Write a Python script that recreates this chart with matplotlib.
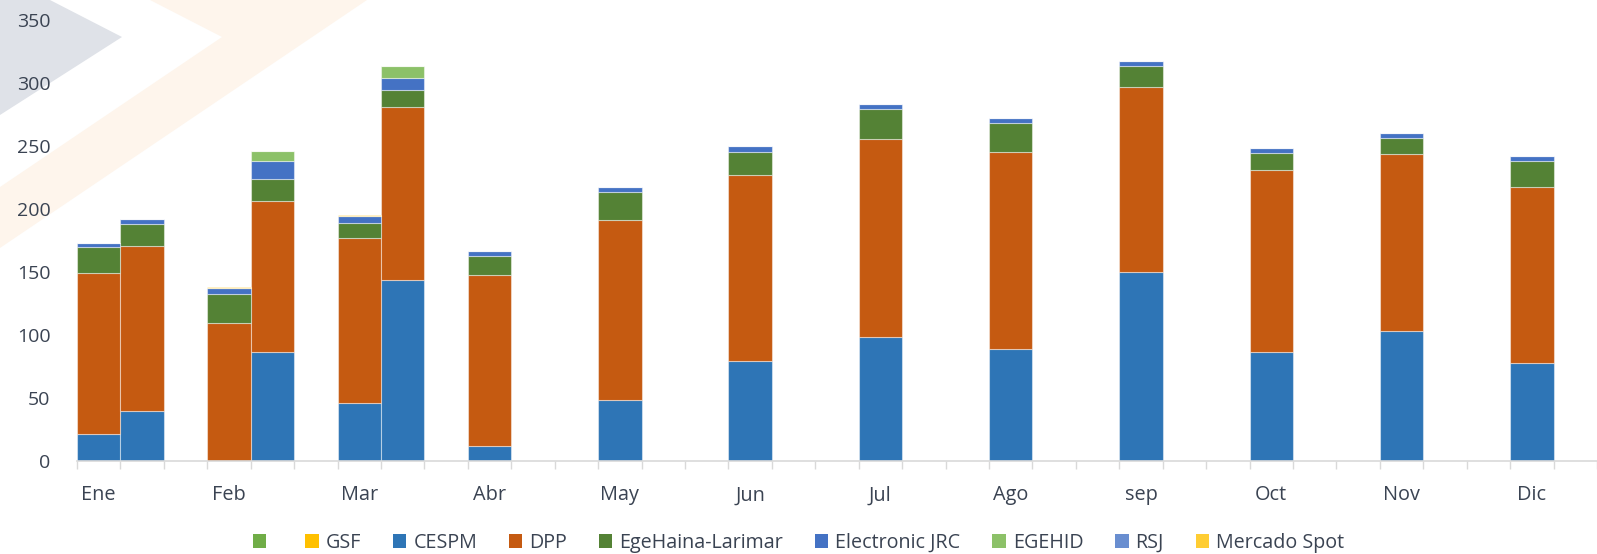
import matplotlib
matplotlib.use("Agg")
import matplotlib.pyplot as plt
from matplotlib.patches import Polygon, Patch
import numpy as np

# ---------------- data ----------------
months = ['Ene', 'Feb', 'Mar', 'Abr', 'May', 'Jun', 'Jul', 'Ago', 'sep', 'Oct', 'Nov', 'Dic']
# month of every bar (Ene, Feb and Mar have two bars)
bar_month = ['Ene', 'Ene', 'Feb', 'Feb', 'Mar', 'Mar', 'Abr', 'May', 'Jun', 'Jul',
             'Ago', 'sep', 'Oct', 'Nov', 'Dic']

series_names = ['', 'GSF', 'CESPM', 'DPP', 'EgeHaina-Larimar', 'Electronic JRC',
                'EGEHID', 'RSJ', 'Mercado Spot']
series_colors = ['#70AD47', '#FFC000', '#2E75B6', '#C55A11', '#548235', '#4472C4',
                 '#8CC168', '#698ED0', '#FFCD33']

unnamed = [0] * 15
gsf = [0] * 15
cespm = [21.2, 39.9, 0, 86.9, 45.7, 144.0, 11.6, 48.6, 79.6, 98.5, 89.2, 150.0, 86.9, 102.8, 78.0]
dpp = [128.0, 131.0, 109.9, 119.7, 131.0, 136.7, 136.3, 142.9, 147.6, 156.7, 156.4, 146.6, 144.2, 141.0, 139.4]
ege = [20.4, 17.1, 23.0, 17.4, 12.4, 13.8, 14.8, 21.9, 18.4, 24.2, 22.5, 16.6, 13.0, 12.4, 20.9]
jrc = [3.4, 3.8, 4.5, 14.3, 5.0, 9.2, 4.3, 3.7, 4.3, 3.7, 4.2, 4.3, 4.2, 4.0, 3.9]
egehid = [0, 0, 0, 7.9, 0, 9.5, 0, 0, 0, 0, 0, 0, 0, 0, 0]
rsj = [0] * 15
mercado = [0, 0, 0.6, 0, 0.8, 0, 0, 0, 0, 0, 0, 0, 0, 0, 0]

yticks = [0, 50, 100, 150, 200, 250, 300, 350]

# ---------------- layout ----------------
W, H = 1597, 554
fig = plt.figure(figsize=(W / 100, H / 100), dpi=100)
plt.rcParams['font.family'] = ['Open Sans', 'DejaVu Sans']
text_color = '#3A4352'

# watermark decorations (figure pixel coords)
def px(points):
    return [(x / W, 1 - y / H) for x, y in points]

fig.patches.append(Polygon(px([(0, 0), (50, 0), (122, 37), (0, 115)]), closed=True,
                           transform=fig.transFigure, facecolor='#DFE2E8',
                           edgecolor='none', zorder=-5))
fig.patches.append(Polygon(px([(150, 0), (367, 0), (0, 248), (0, 187), (222, 37)]), closed=True,
                           transform=fig.transFigure, facecolor='#FEF5EC',
                           edgecolor='none', zorder=-5))

ax_left, ax_right = 77 / W, 1.0
ax_bottom, ax_top = (H - 461) / H, (H - 20) / H
ax = fig.add_axes([ax_left, ax_bottom, ax_right - ax_left, ax_top - ax_bottom])
ax.set_facecolor('none')

# slot positions: each month takes 3 slots, 2nd bar of a month goes to next slot
slots = []
seen = {}
for m in bar_month:
    k = seen.get(m, 0)
    slots.append(3 * months.index(m) + k + 0.5)
    seen[m] = k + 1
slots = np.array(slots)

all_series = [unnamed, gsf, cespm, dpp, ege, jrc, egehid, rsj, mercado]
bottom = np.zeros(len(slots))
for vals, col in zip(all_series, series_colors):
    v = np.array(vals, dtype=float)
    ax.bar(slots, v, width=1.0, bottom=bottom, color=col,
           edgecolor=(1, 1, 1, 0.45), linewidth=0.8, zorder=2)
    bottom += v

ax.set_xlim(0, 35)
ax.set_ylim(0, 350)

ax.set_yticks(yticks)
ax.set_yticklabels([str(t) for t in yticks])
ax.tick_params(axis='y', length=0, pad=19, labelsize=14, labelcolor=text_color)

ax.set_xticks(np.arange(0, 36))
ax.set_xticklabels([])
ax.tick_params(axis='x', which='major', length=5.5, width=1.0, color='#D9D9D9')
ax.set_xticks(3 * np.arange(len(months)) + 0.5, minor=True)
ax.set_xticklabels(months, minor=True)
ax.tick_params(axis='x', which='minor', length=0, pad=17.5, labelsize=14.3, labelcolor=text_color)

for s in ['top', 'right', 'left']:
    ax.spines[s].set_visible(False)
ax.spines['bottom'].set_color('#D9D9D9')
ax.spines['bottom'].set_linewidth(1.2)

handles = [Patch(facecolor=c, edgecolor='none') for c in series_colors]
fig.legend(handles, series_names, loc='center', bbox_to_anchor=(0.5, 1 - 543 / H),
           ncol=9, frameon=False, fontsize=14.2, labelcolor=text_color,
           handlelength=0.7, handleheight=0.7, handletextpad=0.35, columnspacing=1.6,
           borderaxespad=0, borderpad=0)

fig.savefig('out.png', dpi=100)
